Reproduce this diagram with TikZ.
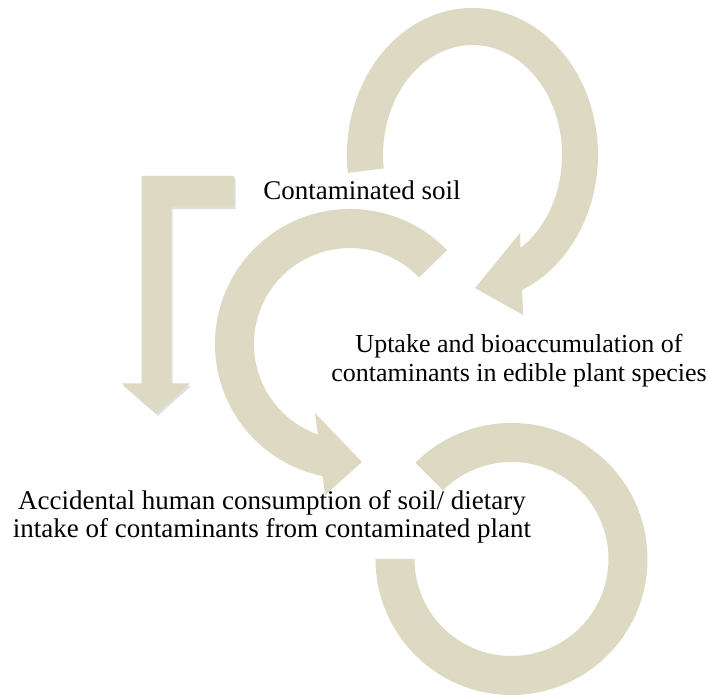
\documentclass[tikz,border=0pt]{standalone}
\usepackage{fontspec}
\setmainfont{Liberation Serif}
\usetikzlibrary{shadows}
\definecolor{tanfill}{HTML}{DDD9C3}
\tikzset{
    ring/.style={fill=tanfill},
    lbl/.style={font=\fontsize{27}{28.5}\selectfont, align=center, inner sep=0pt}
}
\begin{document}
\begin{tikzpicture}[x=1pt, y=1pt]
    \useasboundingbox (0,0) rectangle (708,696);
    \fill[ring, drop shadow={opacity=0.25, shadow xshift=1.5pt, shadow yshift=-2.5pt}]
        (141.7,520) -- (234,520) -- (234,489.3) -- (171,489.3) -- (171,312.7)
        -- (190,312.7) -- (156.3,282.7) -- (121.7,312.7) -- (141.7,312.7) -- cycle;
    \fill[ring] (383.7,527.6) -- (347.9,523.1)
        arc[start angle=187, end angle=-66.7, x radius=125.5, y radius=147]
        -- (523,381) -- (475,408) -- (520,463) -- (520.5,448.1)
        arc[start angle=-57.6, end angle=187, x radius=89.5, y radius=110] -- cycle;
    \fill[ring] (419.1,418.7) -- (447.1,445.8)
        arc[start angle=44, end angle=258.3, radius=135]
        -- (325,201) -- (362,234) -- (315,283) -- (317.9,261.5)
        arc[start angle=250.5, end angle=44, radius=96] -- cycle;
    \fill[ring] (415.3,233.2)
        arc[start angle=135, end angle=-180, radius=136]
        -- (414.5,137)
        arc[start angle=-180, end angle=135, radius=97] -- cycle;
    \node[lbl] (soil) at (362,505.5) {Contaminated soil};
    \node[lbl, font=\fontsize{26}{29}\selectfont] (uptake) at (519,335) {Uptake and bioaccumulation of\\contaminants in edible plant species};
    \node[lbl] (intake) at (272,179) {Accidental human consumption of soil/ dietary\\intake of contaminants from contaminated plant};
\end{tikzpicture}
\end{document}
